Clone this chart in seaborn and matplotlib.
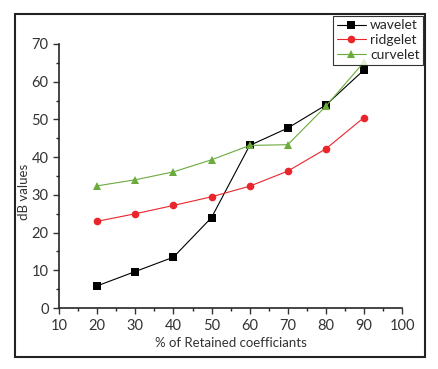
import pandas as pd
import matplotlib.pyplot as plt
import seaborn as sns
from matplotlib.patches import Rectangle
from matplotlib.ticker import MultipleLocator

# values
retained = [20, 30, 40, 50, 60, 70, 80, 90]
wavelet = [5.9, 9.7, 13.5, 24.0, 43.1, 47.7, 53.8, 63.1]
ridgelet = [23.0, 25.0, 27.2, 29.5, 32.3, 36.3, 42.2, 50.5]
curvelet = [32.4, 34.0, 36.1, 39.3, 43.1, 43.3, 53.5, 65.2]

df = pd.DataFrame({
    'retained': retained * 3,
    'db': wavelet + ridgelet + curvelet,
    'method': ['wavelet'] * 8 + ['ridgelet'] * 8 + ['curvelet'] * 8,
})

sns.set_style('ticks')
plt.rcParams['font.family'] = ['Lato', 'DejaVu Sans']

palette = {'wavelet': 'black', 'ridgelet': '#e8262c', 'curvelet': '#6aab3c'}
markers = {'wavelet': 's', 'ridgelet': 'o', 'curvelet': '^'}

fig = plt.figure(figsize=(4.38, 3.69), dpi=100)
ax = fig.add_axes([0.135, 0.165, 0.783, 0.716])

sns.lineplot(data=df, x='retained', y='db', hue='method', style='method',
             palette=palette, markers=markers, dashes=False, linewidth=0.8,
             markersize=5.5, markeredgewidth=0, ax=ax)

ax.set_xlim(10, 100)
ax.set_ylim(0, 70)
ax.xaxis.set_major_locator(MultipleLocator(10))
ax.xaxis.set_minor_locator(MultipleLocator(5))
ax.yaxis.set_major_locator(MultipleLocator(10))
ax.yaxis.set_minor_locator(MultipleLocator(5))
ax.tick_params(which='major', length=4, width=1, labelsize=10.5, colors='#333333')
ax.tick_params(which='minor', length=2.5, width=1)
for side in ['top', 'right']:
    ax.spines[side].set_visible(False)
for side in ['left', 'bottom']:
    ax.spines[side].set_linewidth(1.2)
ax.set_xlabel('% of Retained coefficiants', fontsize=9.5, color='#333333')
ax.set_ylabel('dB values', fontsize=9.5, color='#333333')
ax.xaxis.set_label_coords(0.5, -0.11)
ax.yaxis.set_label_coords(-0.085, 0.44)

leg = ax.legend(loc='upper right', bbox_to_anchor=(423 / 438, 1 - 16 / 369),
                bbox_transform=fig.transFigure, frameon=True, fancybox=False,
                fontsize=10, handlelength=2.1, handletextpad=0.3,
                borderaxespad=0, borderpad=0.25, labelspacing=0.2)
leg.get_frame().set_edgecolor('black')
leg.get_frame().set_linewidth(0.8)

# outer frame around the whole figure
fig.patches.append(Rectangle((15 / 438, 1 - 357 / 369), 410 / 438, 343 / 369,
                             transform=fig.transFigure, fill=False,
                             edgecolor='#222222', linewidth=1.5))

fig.savefig('out.png', dpi=100)
